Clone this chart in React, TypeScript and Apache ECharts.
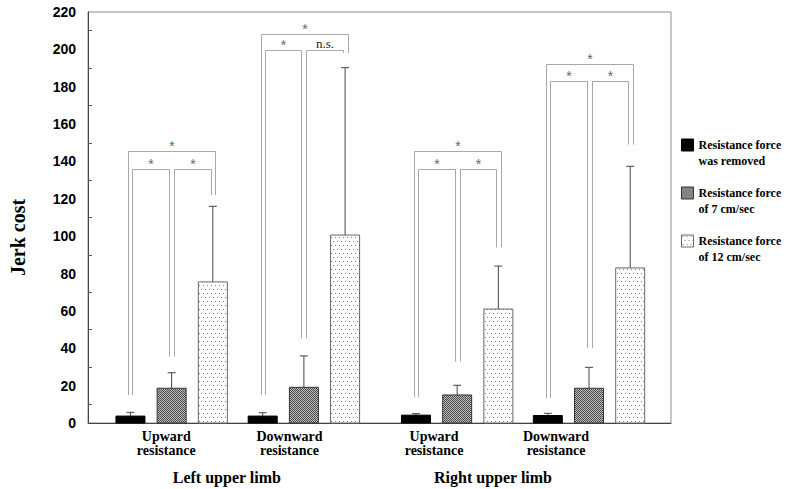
import React, { useEffect, useRef } from 'react';
import * as echarts from 'echarts';

// ---------- data ----------
const conditionNames = [
  'Resistance force\nwas removed',
  'Resistance force\nof 7 cm/sec',
  'Resistance force\nof 12 cm/sec',
];
const directionLabels = ['Upward\nresistance', 'Downward\nresistance', 'Upward\nresistance', 'Downward\nresistance'];
const limbLabels = ['Left upper limb', 'Right upper limb'];

// means and (upper) standard deviations for each group: L-up, L-down, R-up, R-down
const removedMean = [3.7, 3.7, 4.2, 4.0];
const removedSD = [2.0, 1.8, 0.8, 1.2];
const cm7Mean = [18.6, 19.1, 15.0, 18.6];
const cm7SD = [8.3, 16.8, 5.2, 11.2];
const cm12Mean = [75.5, 100.6, 61.0, 83.0];
const cm12SD = [40.5, 89.6, 23.0, 54.4];

// positions on the (hidden) x value axis, one unit = one bar slot
const groupCenters = [2.03, 5.24, 8.96, 12.16];
const barOffsets = [-1, 0, 1];
const directionLabelPos = [1.9, 4.89, 8.4, 11.36];
const limbLabelPos = [3.37, 9.83];
const xMax = 14.15;

// significance brackets (values on the jerk-cost axis)
const outerTop = [145.4, 208, 145.4, 192];
const innerTop = [135.8, 199.7, 135.8, 183];
const legEndRemoved = [15, 15, 13.8, 13.2];
const legEnd7 = [35.5, 45.3, 32.8, 40];
const legEnd12 = [122, 198, 94, 149];
const labelRemovedVs7 = ['*', '*', '*', '*'];
const label7Vs12 = ['*', 'n.s.', '*', '*'];
const labelRemovedVs12 = ['*', '*', '*', '*'];

const SERIF = "'Liberation Serif', 'Times New Roman', serif";
const SANS = "'Liberation Sans', Arial, sans-serif";

function makePattern(kind: string) {
  const c = document.createElement('canvas');
  if (kind === 'cross') {
    c.width = 2; c.height = 2;
    const ctx = c.getContext('2d')!;
    ctx.fillStyle = '#4a4a4a'; ctx.fillRect(0, 0, 2, 2);
    ctx.fillStyle = '#bdbdbd'; ctx.fillRect(1, 0, 1, 1); ctx.fillRect(0, 1, 1, 1);
    return { image: c, repeat: 'repeat', imageWidth: 2, imageHeight: 2 };
  }
  c.width = 8; c.height = 8;
  const ctx = c.getContext('2d')!;
  ctx.fillStyle = '#ffffff'; ctx.fillRect(0, 0, 8, 8);
  ctx.fillStyle = '#808080';
  ctx.fillRect(1, 1, 1, 1); ctx.fillRect(5, 1, 1, 1); ctx.fillRect(3, 5, 1, 1); ctx.fillRect(7, 5, 1, 1);
  return { image: c, repeat: 'repeat', imageWidth: 8, imageHeight: 8 };
}

export default function App() {
  const ref = useRef<HTMLDivElement>(null);
  useEffect(() => {
    if (!ref.current) return;
    const chart = echarts.init(ref.current, null, { renderer: 'svg' });

    const fills = ['#000000', makePattern('cross'), makePattern('dots')];
    const strokes = ['#000000', '#333333', '#666666'];
    const means = [removedMean, cm7Mean, cm12Mean];
    const sds = [removedSD, cm7SD, cm12SD];

    const barSeries = conditionNames.map((name, ci) => ({
      type: 'custom',
      name,
      xAxisIndex: 0,
      yAxisIndex: 0,
      itemStyle: { color: fills[ci], borderColor: strokes[ci], borderWidth: 1 },
      encode: { x: 0, y: 1 },
      data: groupCenters.map((g, gi) => [g + barOffsets[ci], means[ci][gi], sds[ci][gi]]),
      renderItem: (params: any, api: any) => {
        const x = api.value(0);
        const m = api.value(1);
        const sd = api.value(2);
        const base = api.coord([x, 0]);
        const top = api.coord([x, m]);
        const et = api.coord([x, m + sd]);
        const w = 29;
        return {
          type: 'group',
          children: [
            {
              type: 'line',
              shape: { x1: top[0], y1: top[1], x2: et[0], y2: et[1] },
              style: { stroke: '#444', lineWidth: 1 },
            },
            {
              type: 'line',
              shape: { x1: et[0] - 4, y1: et[1], x2: et[0] + 4, y2: et[1] },
              style: { stroke: '#444', lineWidth: 1 },
            },
            {
              type: 'rect',
              shape: { x: base[0] - w / 2, y: top[1], width: w, height: base[1] - top[1] },
              style: { fill: fills[ci], stroke: strokes[ci], lineWidth: 1 },
            },
          ],
        };
      },
    }));

    // brackets: [xLeft, xRight, top, leftEnd, rightEnd, dxLeft(px), dxRight(px)]
    const bracketRows: number[][] = [];
    const bracketTexts: string[] = [];
    groupCenters.forEach((g, gi) => {
      const xs = barOffsets.map((o) => g + o);
      bracketRows.push([xs[0], xs[1], innerTop[gi], legEndRemoved[gi], legEnd7[gi], 2, -2.5]);
      bracketTexts.push(labelRemovedVs7[gi]);
      bracketRows.push([xs[1], xs[2], innerTop[gi], legEnd7[gi], legEnd12[gi], 2.5, -2]);
      bracketTexts.push(label7Vs12[gi]);
      bracketRows.push([xs[0], xs[2], outerTop[gi], legEndRemoved[gi], legEnd12[gi], -2, 2.5]);
      bracketTexts.push(labelRemovedVs12[gi]);
    });

    const bracketSeries = {
      type: 'custom',
      name: 'significance',
      xAxisIndex: 0,
      yAxisIndex: 0,
      encode: { x: [0, 1], y: 2 },
      data: bracketRows,
      z: 1,
      renderItem: (params: any, api: any) => {
        const x1 = api.value(0), x2 = api.value(1), t = api.value(2);
        const l = api.value(3), r = api.value(4), dl = api.value(5), dr = api.value(6);
        const pTL = api.coord([x1, t]);
        const pL = api.coord([x1, l]);
        const pTR = api.coord([x2, t]);
        const pR = api.coord([x2, r]);
        const xl = Math.round(pTL[0] + dl) + 0.5;
        const xr = Math.round(pTR[0] + dr) + 0.5;
        const yt = Math.round(pTL[1]) + 0.5;
        const txt = bracketTexts[params.dataIndex];
        const isNs = txt !== '*';
        return {
          type: 'group',
          children: [
            {
              type: 'polyline',
              shape: { points: [[xl, pL[1]], [xl, yt], [xr, yt], [xr, pR[1]]] },
              style: { stroke: '#a8a8a8', lineWidth: 1, fill: 'none' },
            },
            {
              type: 'text',
              x: (xl + xr) / 2,
              y: isNs ? yt - 7 : yt - 6,
              style: {
                text: txt,
                fill: isNs ? '#222222' : '#666666',
                font: isNs ? `13px ${SERIF}` : `14px ${SANS}`,
                align: 'center',
                verticalAlign: 'middle',
              },
            },
          ],
        };
      },
    };

    const nearest = (arr: number[], v: number) => {
      let bi = 0;
      arr.forEach((a, i) => { if (Math.abs(a - v) < Math.abs(arr[bi] - v)) bi = i; });
      return bi;
    };

    chart.setOption({
      animation: false,
      grid: {
        left: 88, right: 117, top: 12, bottom: 66,
        show: true, borderColor: '#8c8c8c', borderWidth: 1, backgroundColor: 'transparent',
      },
      legend: {
        orient: 'vertical',
        left: 681,
        top: 121,
        padding: 0,
        itemGap: 0,
        itemWidth: 12,
        itemHeight: 12,
        icon: 'rect',
        selectedMode: false,
        formatter: (name: string) => '\n' + name,
        textStyle: {
          fontFamily: SERIF, fontWeight: 'bold', fontSize: 12, lineHeight: 16, color: '#000',
        },
        data: conditionNames.map((n, i) => ({
          name: n,
          itemStyle: { color: fills[i], borderColor: strokes[i], borderWidth: 1 },
        })),
      },
      xAxis: [
        {
          type: 'value',
          min: 0,
          max: xMax,
          axisLine: { show: true, lineStyle: { color: '#444', width: 1 } },
          axisTick: { show: false },
          splitLine: { show: false },
          axisLabel: {
            customValues: directionLabelPos,
            formatter: (v: number) => directionLabels[nearest(directionLabelPos, v)],
            fontFamily: SERIF, fontWeight: 'bold', fontSize: 14, lineHeight: 14, color: '#000', margin: 6,
          },
        },
        {
          type: 'value',
          position: 'bottom',
          min: 0,
          max: xMax,
          axisLine: { show: false },
          axisTick: { show: false },
          splitLine: { show: false },
          axisLabel: {
            customValues: limbLabelPos,
            formatter: (v: number) => limbLabels[nearest(limbLabelPos, v)],
            fontFamily: SERIF, fontWeight: 'bold', fontSize: 16, color: '#000', margin: 46,
          },
        },
      ],
      yAxis: {
        type: 'value',
        min: 0,
        max: 220,
        interval: 20,
        name: 'Jerk cost',
        nameLocation: 'middle',
        nameRotate: 90,
        nameGap: 60,
        nameTextStyle: {
          fontFamily: SERIF, fontWeight: 'bold', fontSize: 20, color: '#000',
          padding: [0, 40, 0, 0],
        },
        axisLine: { show: true, lineStyle: { color: '#444', width: 1 } },
        axisTick: { show: false, inside: true },
        minorTick: { show: true, splitNumber: 2, length: 4, lineStyle: { color: '#555', width: 1 } },
        splitLine: { show: false },
        minorSplitLine: { show: false },
        axisLabel: { fontFamily: SANS, fontWeight: 'bold', fontSize: 14, color: '#000', margin: 12 },
      },
      series: [bracketSeries, ...barSeries],
    });
    return () => chart.dispose();
  }, []);
  return (
    <div
      ref={ref}
      style={{ position: 'fixed', left: 0, top: 0, width: 788, height: 489, background: '#fff' }}
    />
  );
}
